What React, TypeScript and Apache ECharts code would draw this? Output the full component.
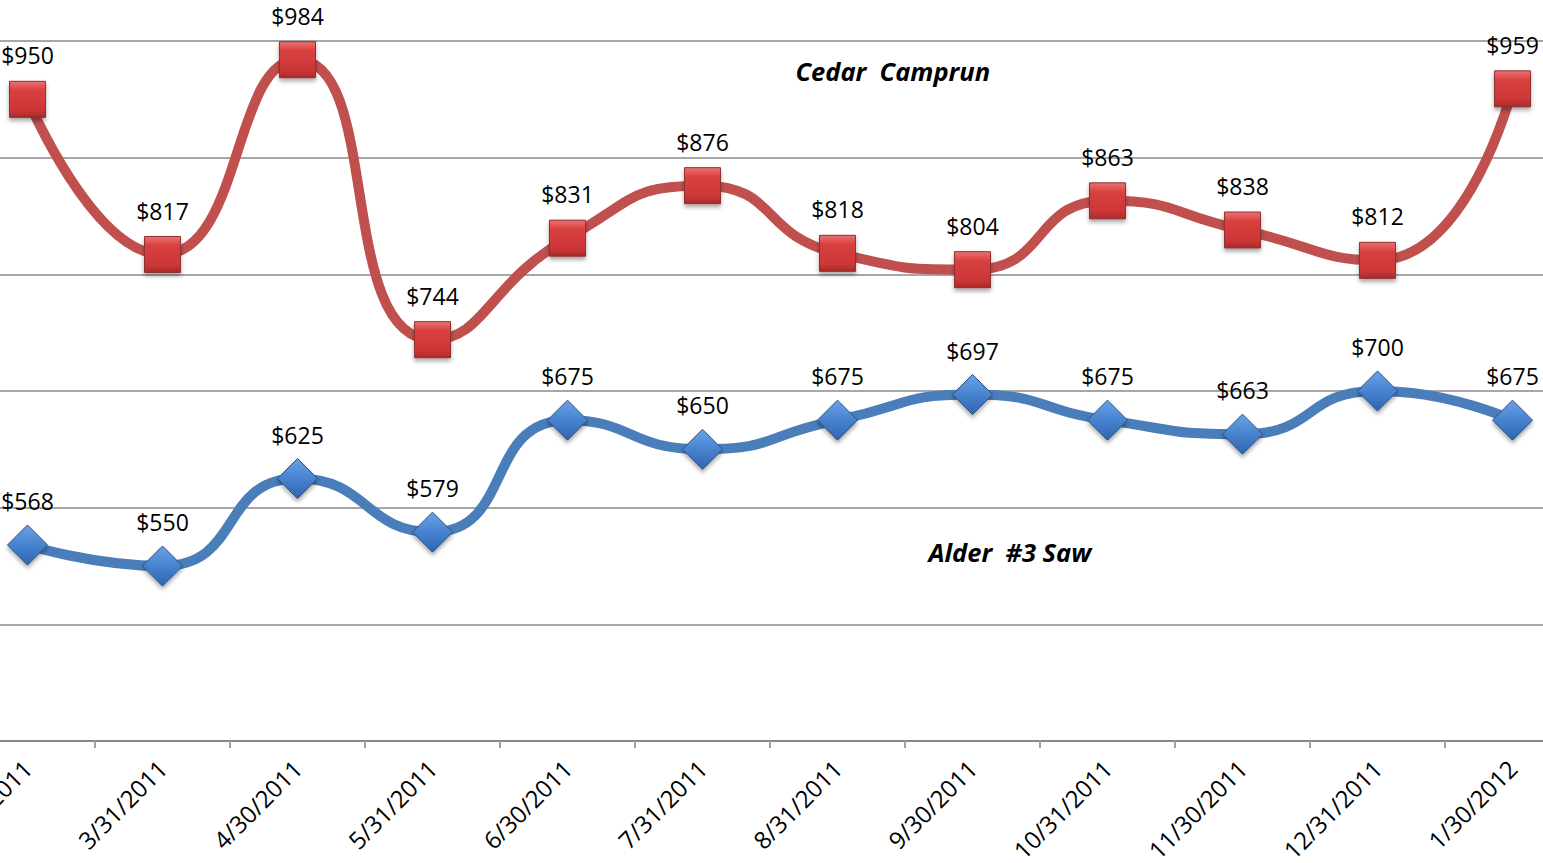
import React, { useEffect, useRef } from "react";
import * as echarts from "echarts";

const categories = [
  "2/28/2011", "3/31/2011", "4/30/2011", "5/31/2011", "6/30/2011", "7/31/2011",
  "8/31/2011", "9/30/2011", "10/31/2011", "11/30/2011", "12/31/2011", "1/30/2012",
];
const cedarValues = [950, 817, 984, 744, 831, 876, 818, 804, 863, 838, 812, 959];
const alderValues = [568, 550, 625, 579, 675, 650, 675, 697, 675, 663, 700, 675];
const cedarName = "Cedar  Camprun";
const alderName = "Alder  #3 Saw";

const FONT = "'Open Sans', 'Liberation Sans', sans-serif";

export default function App() {
  const ref = useRef<HTMLDivElement | null>(null);
  useEffect(() => {
    if (!ref.current) return;
    const chart = echarts.init(ref.current, undefined, { renderer: "svg" });
    const labelCfg = (distance: number) => ({
      show: true,
      position: "top" as const,
      distance,
      fontFamily: FONT,
      fontSize: 23,
      color: "#000",
      formatter: (p: any) => "$" + p.value,
    });
    chart.setOption({
      animation: false,
      backgroundColor: "#fff",
      grid: {
        left: 0,
        right: 0,
        top: 41,
        bottom: 122,
        containLabel: false,
        outerBoundsMode: "none",
      },
      xAxis: {
        type: "category",
        data: categories,
        boundaryGap: true,
        axisLine: { show: true, lineStyle: { color: "#878787", width: 2 } },
        axisTick: { show: true, length: 7, lineStyle: { color: "#a0a0a0", width: 2 } },
        axisLabel: {
          interval: 0,
          rotate: 45,
          margin: 23,
          align: "right",
          verticalAlign: "middle",
          fontFamily: FONT,
          fontSize: 24,
          color: "#000",
        },
      },
      yAxis: {
        type: "value",
        min: 400,
        max: 1000,
        interval: 100,
        axisLine: { show: false },
        axisTick: { show: false },
        axisLabel: { show: false },
        splitLine: { show: true, lineStyle: { color: "#8a8a8a", width: 1.5 } },
      },
      series: [
        {
          name: cedarName,
          type: "line",
          data: cedarValues,
          smooth: 0.55,
          symbol: "rect",
          symbolSize: 36,
          lineStyle: { color: "#c0504d", width: 10 },
          itemStyle: {
            color: new echarts.graphic.LinearGradient(0, 0, 0, 1, [
              { offset: 0, color: "#ec7272" },
              { offset: 0.25, color: "#d94040" },
              { offset: 0.8, color: "#cc3636" },
              { offset: 1, color: "#a82a2a" },
            ]),
            borderColor: "#8e3030",
            borderWidth: 1,
            shadowBlur: 4,
            shadowOffsetY: 3,
            shadowColor: "rgba(0,0,0,0.35)",
          },
          label: labelCfg(14),
          z: 3,
        },
        {
          name: alderName,
          type: "line",
          data: alderValues,
          smooth: 0.55,
          symbol: "diamond",
          symbolSize: 40,
          lineStyle: { color: "#4a7ebb", width: 10 },
          itemStyle: {
            color: new echarts.graphic.LinearGradient(0, 0, 0, 1, [
              { offset: 0, color: "#6aa2e6" },
              { offset: 0.45, color: "#4a86d2" },
              { offset: 1, color: "#2f64ae" },
            ]),
            borderColor: "#2e5180",
            borderWidth: 1,
            shadowBlur: 4,
            shadowOffsetY: 3,
            shadowColor: "rgba(0,0,0,0.35)",
          },
          label: labelCfg(12),
          z: 3,
        },
      ],
      graphic: [
        {
          type: "text",
          left: 795 + 40.5,
          top: 58,
          style: {
            text: cedarName,
            fontFamily: FONT,
            fontSize: 25.5,
            fontWeight: "bold",
            fontStyle: "italic",
            fill: "#000",
          },
        },
        {
          type: "text",
          left: 928 + 40.5,
          top: 539,
          style: {
            text: alderName,
            fontFamily: FONT,
            fontSize: 25.5,
            fontWeight: "bold",
            fontStyle: "italic",
            fill: "#000",
          },
        },
      ],
    });
    return () => chart.dispose();
  }, []);
  return (
    <div
      style={{
        position: "absolute",
        left: 0,
        top: 0,
        width: 1543,
        height: 863,
        overflow: "hidden",
        background: "#fff",
      }}
    >
      <div
        ref={ref}
        style={{ position: "absolute", left: -40.5, top: 0, width: 1620, height: 863 }}
      />
    </div>
  );
}
